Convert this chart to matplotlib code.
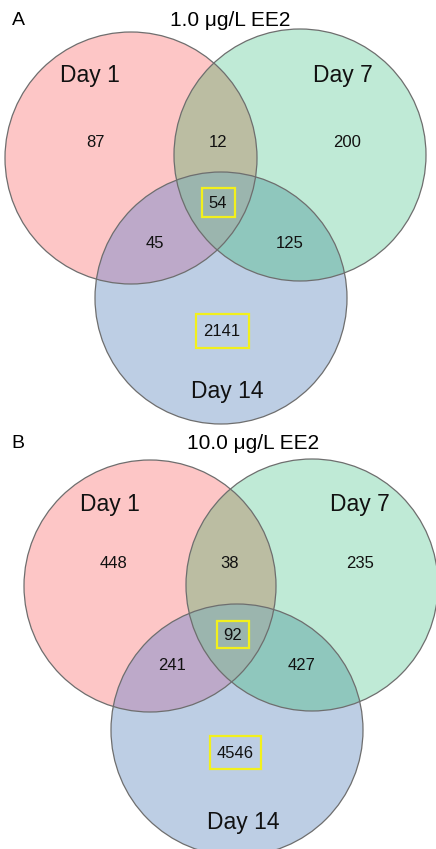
import numpy as np
import matplotlib
matplotlib.use("Agg")
import matplotlib.pyplot as plt
from matplotlib.patches import Circle, Polygon, Rectangle

plt.rcParams['font.family'] = ['Liberation Sans', 'DejaVu Sans']

# Data
panel_letters = ["A", "B"]
panel_titles = ["1.0 \u03bcg/L EE2", "10.0 \u03bcg/L EE2"]
set_names = ["Day 1", "Day 7", "Day 14"]
# region order: only1, only7, only14, 1&7, 1&14, 7&14, all
counts_a = [87, 200, 2141, 12, 45, 125, 54]
counts_b = [448, 235, 4546, 38, 241, 427, 92]
highlight = [2, 6]  # boxed regions: only Day 14, all three

# Layout (pixel coords of the figure)
centers = [
    [(131, 158), (300, 155), (221, 298)],
    [(150, 586), (312, 585), (237, 730)],
]
radius = 126
count_pos = [
    [(95, 142), (347, 142), (222, 331), (218, 142), (155, 243), (290, 243), (218, 203)],
    [(113, 563), (360, 563), (235, 753), (230, 563), (172, 665), (302, 665), (233, 635)],
]
box_size = [
    {2: (53, 34), 6: (33, 29)},
    {2: (51, 33), 6: (32, 27)},
]
name_pos = [
    [(90, 75), (343, 75), (227, 391)],
    [(110, 504), (360, 504), (243, 822)],
]
letter_pos = [(18, 20), (18, 443)]
title_pos = [(230, 20), (253, 443)]

region_colors = ["#fdc6c6", "#bfead6", "#bdcee4",
                 "#bbbda2", "#bda9c9", "#8fc7bd", "#9bb5ae"]
edge_color = "#6e6e6e"


def circle_pts(c, r, n=2000):
    t = np.linspace(0, 2 * np.pi, n, endpoint=False)
    return np.column_stack([c[0] + r * np.cos(t), c[1] + r * np.sin(t)])


def intersection_poly(circs, r):
    """Convex intersection of circles as a polygon."""
    pts = []
    for i, c in enumerate(circs):
        p = circle_pts(c, r)
        keep = np.ones(len(p), bool)
        for j, o in enumerate(circs):
            if j != i:
                keep &= np.hypot(p[:, 0] - o[0], p[:, 1] - o[1]) <= r + 1e-9
        pts.append(p[keep])
    pts = np.vstack(pts)
    m = pts.mean(axis=0)
    ang = np.arctan2(pts[:, 1] - m[1], pts[:, 0] - m[0])
    return pts[np.argsort(ang)]


def draw_panel(ax, p, counts):
    cs = centers[p]
    for k, c in enumerate(cs):
        ax.add_patch(Circle(c, radius, fc=region_colors[k], ec="none", zorder=1))
    pairs = [(0, 1), (0, 2), (1, 2)]
    for k, (i, j) in enumerate(pairs):
        ax.add_patch(Polygon(intersection_poly([cs[i], cs[j]], radius),
                             closed=True, fc=region_colors[3 + k], ec="none", zorder=2))
    ax.add_patch(Polygon(intersection_poly(cs, radius), closed=True,
                         fc=region_colors[6], ec="none", zorder=3))
    for c in cs:
        ax.add_patch(Circle(c, radius, fc="none", ec=edge_color, lw=0.9, zorder=4))

    for k, (n, (px, py)) in enumerate(zip(counts, count_pos[p])):
        ax.text(px, py, str(n), ha="center", va="center", fontsize=12,
                color="#111111", zorder=5)
        if k in highlight:
            w, h = box_size[p][k]
            ax.add_patch(Rectangle((px - w / 2, py - h / 2 - 0.5), w, h,
                                   fc="none", ec="#f2f01c", lw=1.6, zorder=5))

    for name, (nx, ny) in zip(set_names, name_pos[p]):
        ax.text(nx, ny, name, ha="center", va="center", fontsize=16.5,
                color="#111111", zorder=5)
    ax.text(*letter_pos[p], panel_letters[p], ha="center", va="center",
            fontsize=14, zorder=5)
    ax.text(*title_pos[p], panel_titles[p], ha="center", va="center",
            fontsize=15, zorder=5)


fig = plt.figure(figsize=(4.36, 8.49), dpi=100)
ax = fig.add_axes([0, 0, 1, 1])
ax.set_xlim(0, 436)
ax.set_ylim(849, 0)
ax.set_aspect("equal")
ax.axis("off")

for p, counts in enumerate([counts_a, counts_b]):
    draw_panel(ax, p, counts)

fig.savefig("out.png", dpi=100, facecolor="white")
